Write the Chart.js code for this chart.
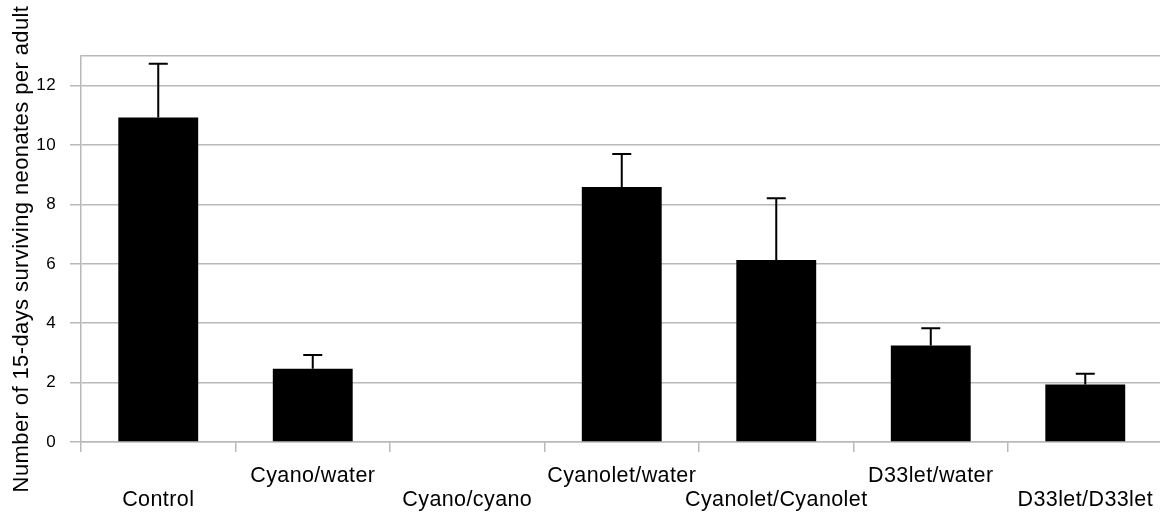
<!DOCTYPE html>
<html><head><meta charset="utf-8">
<style>html,body{margin:0;padding:0;overflow:hidden;background:#fff}#wrap{width:1165px;height:512px;position:relative}</style>
<script src="https://cdn.jsdelivr.net/npm/chart.js@4/dist/chart.umd.min.js"></script>
</head><body><div id="wrap"><canvas id="c"></canvas></div>
<script>
const categories = ['Control', 'Cyano/water', 'Cyano/cyano', 'Cyanolet/water', 'Cyanolet/Cyanolet', 'D33let/water', 'D33let/D33let'];
const survivors = [10.93, 2.47, 0, 8.59, 6.13, 3.25, 1.94];
const errors = [1.81, 0.46, 0, 1.11, 2.08, 0.58, 0.36];
const yTicks = [0, 2, 4, 6, 8, 10, 12];
const yMax = 13;
const yTitle = 'Number of 15-days surviving neonates per adult';

const GRID = '#b9b9b9';
const FONT = '"Liberation Sans", Arial, sans-serif';
const SPACING = '0.4px';

const spacing = {
  id: 'spacing',
  beforeLayout(chart) { chart.ctx.letterSpacing = SPACING; },
  beforeDraw(chart) { chart.ctx.letterSpacing = SPACING; }
};

const errorBars = {
  id: 'errorBars',
  afterDatasetsDraw(chart) {
    const ctx = chart.ctx;
    const meta = chart.getDatasetMeta(0);
    const y = chart.scales.y;
    ctx.save();
    ctx.strokeStyle = '#000';
    ctx.lineWidth = 2;
    meta.data.forEach((bar, i) => {
      const e = errors[i];
      if (!e) return;
      const top = y.getPixelForValue(survivors[i] + e);
      const base = y.getPixelForValue(survivors[i]);
      ctx.beginPath();
      ctx.moveTo(bar.x, base);
      ctx.lineTo(bar.x, top);
      ctx.moveTo(bar.x - 9.5, top);
      ctx.lineTo(bar.x + 9.5, top);
      ctx.stroke();
    });
    ctx.restore();
  }
};

new Chart(document.getElementById('c'), {
  type: 'bar',
  data: {
    labels: categories,
    datasets: [{
      data: survivors,
      backgroundColor: '#000',
      borderWidth: 0,
      barPercentage: 0.517,
      categoryPercentage: 1
    }]
  },
  plugins: [spacing, errorBars],
  options: {
    responsive: true,
    maintainAspectRatio: false,
    animation: false,
    layout: { padding: { top: 56, left: 0, right: 0, bottom: 0 } },
    plugins: { legend: { display: false }, tooltip: { enabled: false } },
    scales: {
      x: {
        offset: true,
        grid: { display: true, offset: true, drawOnChartArea: false, drawTicks: true, tickLength: 10, color: GRID, lineWidth: 1.5 },
        border: { display: true, color: GRID, width: 1.5 },
        ticks: {
          autoSkip: false, maxRotation: 0, minRotation: 0, padding: 12,
          color: '#000', font: { family: FONT, size: 21.5, lineHeight: '24px' },
          callback: (v, i) => (i % 2 === 0 ? ['', categories[i]] : [categories[i], ''])
        },
        afterFit: (s) => { s.height = 70; }
      },
      y: {
        min: 0, max: yMax,
        afterBuildTicks: (s) => { s.ticks = yTicks.concat([yMax]).map(v => ({ value: v })); },
        grid: {
          color: GRID, lineWidth: 1.5, tickLength: 11, drawTicks: true,
          tickColor: (c) => (c.tick && c.tick.value === yMax ? 'rgba(0,0,0,0)' : GRID)
        },
        border: { display: true, color: GRID, width: 1.5 },
        ticks: {
          padding: 14, color: '#000', font: { family: FONT, size: 17 },
          callback: (v) => (v === yMax ? '' : v)
        },
        title: { display: true, text: yTitle, color: '#000', font: { family: FONT, size: 22 }, padding: { top: 9, bottom: 0 } },
        afterFit: (s) => { s.width = 81; }
      }
    }
  }
});
</script>
</body></html>
